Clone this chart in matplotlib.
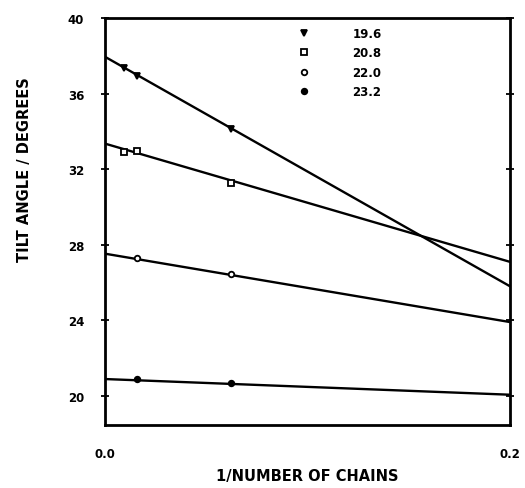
import matplotlib
matplotlib.use("Agg")
import matplotlib.pyplot as plt

# ---- data ----
temps = ["19.6", "20.8", "22.0", "23.2"]
markers = ["v", "s", "o", "o"]
filled = [True, False, False, True]
x_pts = [
    [0.0094, 0.0156, 0.0625],
    [0.0094, 0.0156, 0.0625],
    [0.0156, 0.0625],
    [0.0156, 0.0625],
]
y_pts = [
    [37.37, 36.93, 34.14],
    [32.93, 32.97, 31.29],
    [27.30, 26.42],
    [20.90, 20.67],
]
fit_x = [0.0, 0.2]
fit_start = [37.95, 33.35, 27.52, 20.88]
fit_end = [25.80, 27.09, 23.90, 20.05]
y_ticks = [20, 24, 28, 32, 36, 40]
x_ticks = [0.0, 0.2]
x_tick_labels = ["0.0", "0.2"]

plt.rcParams['font.family'] = ['DejaVu Sans']
plt.rcParams['font.weight'] = 'bold'

fig = plt.figure(figsize=(5.25, 4.89), dpi=100)
ax = fig.add_axes([0.2, 0.129, 0.771, 0.832])

handles = []
for i in range(4):
    ax.plot(fit_x, [fit_start[i], fit_end[i]], color="black", lw=1.7, zorder=2)
    h, = ax.plot(x_pts[i], y_pts[i], linestyle="none", marker=markers[i],
                 markersize=4.0, markeredgecolor="black", markeredgewidth=1.3,
                 markerfacecolor="black" if filled[i] else "white",
                 label=temps[i], zorder=3)
    handles.append(h)

ax.set_xlim(0.0, 0.2)
ax.set_ylim(18.45, 40.0)
ax.set_yticks(y_ticks)
ax.set_yticklabels([str(t) for t in y_ticks], fontsize=8.5, fontweight="bold")
ax.set_xticks(x_ticks)
ax.set_xticklabels(x_tick_labels, fontsize=8.5, fontweight="bold")
ax.tick_params(axis="y", direction="inout", length=6, width=1.3,
               left=True, right=True, pad=12)
ax.tick_params(axis="x", length=0, pad=16)
for s in ax.spines.values():
    s.set_linewidth(2.0)

ax.set_xlabel("1/NUMBER OF CHAINS", fontsize=10.5, fontweight="bold")
ax.xaxis.set_label_coords(0.5, -0.105)
ax.set_ylabel("TILT ANGLE / DEGREES", fontsize=10.5, fontweight="bold")
ax.yaxis.set_label_coords(-0.18, 0.63)

leg = ax.legend(handles=handles, loc="upper left", bbox_to_anchor=(0.455, 1.0),
                frameon=False, fontsize=8.5, handletextpad=3.6,
                labelspacing=0.55, borderaxespad=0.35, handlelength=1.0)
for t in leg.get_texts():
    t.set_fontweight("bold")

fig.savefig("out.png", dpi=100)
